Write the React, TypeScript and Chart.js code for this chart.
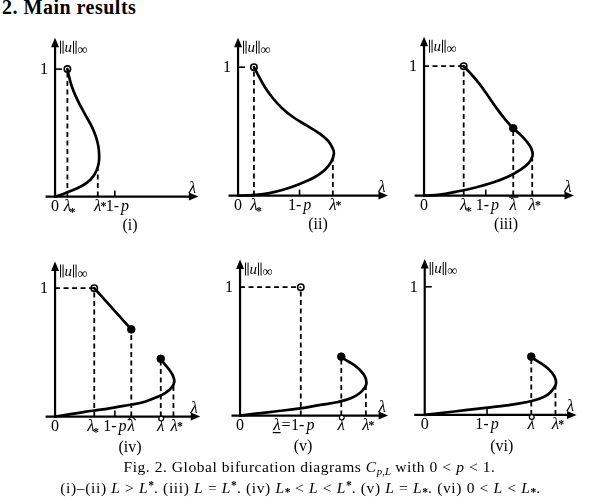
import React, { useEffect, useRef } from 'react';
import { Chart, registerables } from 'chart.js';
Chart.register(...registerables);

type Pt = [number, number];
type Lab = [number, string];

// ---------- Panel (i) ----------
const curveI: Pt[] = [[0.097, 1.0], [0.112, 0.933], [0.134, 0.858], [0.164, 0.784], [0.201, 0.709], [0.246, 0.627], [0.291, 0.545], [0.321, 0.47], [0.34, 0.396], [0.347, 0.321], [0.343, 0.261], [0.328, 0.209], [0.299, 0.157], [0.254, 0.112], [0.194, 0.075], [0.127, 0.045], [0.06, 0.019], [0, 0]];
const openI: Pt[] = [[0.097, 1]];
const dotsI: Pt[] = [];
const vDashI: Pt[] = [[0.097, 1], [0.336, 0.22]];
const hDashI: number[] = [];
const ticksI: number[] = [0.47];
const labelsI: Lab[] = [[0, '0'], [0.097, 'lamSub'], [0.336, 'lamSup'], [0.49, 'oneMinusP']];

// ---------- Panel (ii) ----------
const curveII: Pt[] = [[0.124, 1.0], [0.161, 0.931], [0.21, 0.844], [0.272, 0.758], [0.346, 0.679], [0.432, 0.61], [0.531, 0.548], [0.63, 0.487], [0.704, 0.425], [0.741, 0.363], [0.748, 0.326], [0.728, 0.264], [0.679, 0.202], [0.593, 0.141], [0.481, 0.091], [0.358, 0.047], [0.235, 0.017], [0.111, 0.003], [0, 0]];
const openII: Pt[] = [[0.124, 1]];
const dotsII: Pt[] = [];
const vDashII: Pt[] = [[0.124, 1], [0.74, 0.29]];
const hDashII: number[] = [];
const ticksII: number[] = [0.48];
const labelsII: Lab[] = [[0, '0'], [0.124, 'lamSub'], [0.48, 'oneMinusP'], [0.74, 'lamSup']];

// ---------- Panel (iii) ----------
const curveIII: Pt[] = [[0.307, 1.0], [0.368, 0.936], [0.429, 0.863], [0.491, 0.777], [0.551, 0.691], [0.625, 0.593], [0.691, 0.52], [0.76, 0.458], [0.821, 0.384], [0.84, 0.336], [0.838, 0.299], [0.809, 0.25], [0.748, 0.201], [0.662, 0.152], [0.539, 0.103], [0.392, 0.061], [0.245, 0.029], [0.123, 0.007], [0, 0]];
const openIII: Pt[] = [[0.307, 1]];
const dotsIII: Pt[] = [[0.691, 0.52]];
const vDashIII: Pt[] = [[0.307, 1], [0.691, 0.52], [0.838, 0.287]];
const hDashIII: number[] = [0.307];
const ticksIII: number[] = [0.478];
const labelsIII: Lab[] = [[0, '0'], [0.307, 'lamSub'], [0.49, 'oneMinusP'], [0.691, 'lamBar'], [0.838, 'lamSup']];

// ---------- Panel (iv) ----------
const upperIV: Pt[] = [[0.306, 1], [0.595, 0.679]];
const lowerIV: Pt[] = [[0, 0], [0.109, 0.017], [0.232, 0.037], [0.356, 0.054], [0.479, 0.074], [0.602, 0.094], [0.701, 0.116], [0.787, 0.148], [0.862, 0.185], [0.911, 0.227], [0.931, 0.272], [0.919, 0.321], [0.887, 0.37], [0.85, 0.415], [0.825, 0.45]];
const openIV: Pt[] = [[0.306, 1]];
const dotsIV: Pt[] = [[0.595, 0.679], [0.825, 0.45]];
const vDashIV: Pt[] = [[0.306, 1], [0.595, 0.679], [0.825, 0.45], [0.924, 0.272]];
const hDashIV: number[] = [0.306];
const ticksIV: number[] = [0.467];
const labelsIV: Lab[] = [[0, '0'], [0.28, 'lamSub'], [0.467, 'oneMinusP'], [0.595, 'lamHat'], [0.825, 'lamRing'], [0.93, 'lamSup']];

// ---------- Panel (v) ----------
const lowerV: Pt[] = [[0, 0], [0.123, 0.015], [0.271, 0.032], [0.469, 0.056], [0.617, 0.081], [0.765, 0.106], [0.864, 0.135], [0.938, 0.178], [0.975, 0.222], [0.987, 0.254], [0.975, 0.304], [0.938, 0.353], [0.889, 0.395], [0.827, 0.432], [0.79, 0.459]];
const openV: Pt[] = [[0.474, 1]];
const dotsV: Pt[] = [[0.79, 0.459]];
const vDashV: Pt[] = [[0.474, 1], [0.79, 0.459], [0.982, 0.241]];
const hDashV: number[] = [0.474];
const ticksV: number[] = [];
const labelsV: Lab[] = [[0, '0'], [0.474, 'lamUnderEq'], [0.79, 'lamRing'], [0.982, 'lamSup']];

// ---------- Panel (vi) ----------
const lowerVI: Pt[] = [[0, 0], [0.144, 0.017], [0.318, 0.037], [0.493, 0.057], [0.642, 0.075], [0.791, 0.099], [0.89, 0.124], [0.965, 0.161], [1.01, 0.211], [1.027, 0.249], [1.015, 0.299], [0.978, 0.348], [0.928, 0.39], [0.866, 0.43], [0.833, 0.455]];
const openVI: Pt[] = [];
const dotsVI: Pt[] = [[0.833, 0.455]];
const vDashVI: Pt[] = [[0.833, 0.455], [1.022, 0.236]];
const hDashVI: number[] = [];
const ticksVI: number[] = [0.487];
const labelsVI: Lab[] = [[0, '0'], [0.487, 'oneMinusP'], [0.833, 'lamRing'], [1.022, 'lamSup']];

const tags = ['(i)', '(ii)', '(iii)', '(iv)', '(v)', '(vi)'];

// layout (pixels)
const LAYOUT = [
  { ox: 52, oy: 200, s: 134, xs: -10, xt: 151, yt: 167, tdx: 75, tdy: 29, yTick: true },
  { ox: 235, oy: 199, s: 135, xs: -10, xt: 158, yt: 166, tdx: 80, tdy: 29, yTick: true },
  { ox: 421, oy: 199, s: 136, xs: -10, xt: 158, yt: 167, tdx: 82, tdy: 29, yTick: false },
  { ox: 52, oy: 420, s: 135, xs: -10, xt: 153, yt: 163, tdx: 75, tdy: 31, yTick: false },
  { ox: 237, oy: 419, s: 135, xs: -9, xt: 156, yt: 164, tdx: 63, tdy: 31, yTick: false },
  { ox: 422, oy: 418, s: 134, xs: -11, xt: 159, yt: 163, tdx: 77, tdy: 32, yTick: true },
];

const PANELS = [
  { curves: [curveI], open: openI, dots: dotsI, vDash: vDashI, hDash: hDashI, ticks: ticksI, labels: labelsI },
  { curves: [curveII], open: openII, dots: dotsII, vDash: vDashII, hDash: hDashII, ticks: ticksII, labels: labelsII },
  { curves: [curveIII], open: openIII, dots: dotsIII, vDash: vDashIII, hDash: hDashIII, ticks: ticksIII, labels: labelsIII },
  { curves: [upperIV, lowerIV], open: openIV, dots: dotsIV, vDash: vDashIV, hDash: hDashIV, ticks: ticksIV, labels: labelsIV },
  { curves: [lowerV], open: openV, dots: dotsV, vDash: vDashV, hDash: hDashV, ticks: ticksV, labels: labelsV },
  { curves: [lowerVI], open: openVI, dots: dotsVI, vDash: vDashVI, hDash: hDashVI, ticks: ticksVI, labels: labelsVI },
];

const PADL = 50, PADT = 185, W = 220, H = 230;
const FAM = '"Liberation Serif", "DejaVu Serif", serif';
const fnt = (sz: number, it = false, bold = false) => `${it ? 'italic ' : ''}${bold ? 'bold ' : ''}${sz}px ${FAM}`;
const LS = 16;
const LAM = 17;

function drawTickLabel(ctx: CanvasRenderingContext2D, kind: string, cx: number, ay: number) {
  const base = ay + 14.5;
  ctx.fillStyle = '#000';
  ctx.strokeStyle = '#000';
  ctx.textBaseline = 'alphabetic';
  const lam = (x: number) => {
    ctx.font = fnt(LAM, true);
    ctx.textAlign = 'center';
    ctx.fillText('λ', x, base);
    return ctx.measureText('λ').width;
  };
  const ompWidth = () => {
    ctx.font = fnt(LS);
    const wa = ctx.measureText('1- ').width;
    ctx.font = fnt(LS, true);
    return wa - 2 + ctx.measureText('p').width;
  };
  const omp = (xLeft: number) => {
    ctx.textAlign = 'left';
    ctx.font = fnt(LS);
    ctx.fillText('1- ', xLeft, base);
    const wa = ctx.measureText('1- ').width;
    ctx.font = fnt(LS, true);
    ctx.fillText('p', xLeft + wa - 2, base);
  };
  if (kind === '0') {
    ctx.font = fnt(LS);
    ctx.textAlign = 'center';
    ctx.fillText('0', cx, base);
  } else if (kind === 'lamSub') {
    const w = lam(cx);
    ctx.font = fnt(12, false, true);
    ctx.textAlign = 'left';
    ctx.fillText('*', cx + w / 2 - 1.5, base + 5);
  } else if (kind === 'lamSup') {
    const w = lam(cx);
    ctx.font = fnt(12, false, true);
    ctx.textAlign = 'left';
    ctx.fillText('*', cx + w / 2 - 1, base - 1.5);
  } else if (kind === 'oneMinusP') {
    omp(cx - ompWidth() / 2);
  } else if (kind === 'lamBar') {
    lam(cx);
    ctx.lineWidth = 1.3;
    ctx.beginPath();
    ctx.moveTo(cx - 4, base - 13);
    ctx.lineTo(cx + 5, base - 13);
    ctx.stroke();
  } else if (kind === 'lamHat') {
    lam(cx);
    ctx.lineWidth = 1.2;
    ctx.beginPath();
    ctx.moveTo(cx - 3.5, base - 11);
    ctx.lineTo(cx + 0.5, base - 14.5);
    ctx.lineTo(cx + 4.5, base - 11);
    ctx.stroke();
  } else if (kind === 'lamRing') {
    lam(cx);
    ctx.lineWidth = 1.2;
    ctx.fillStyle = '#fff';
    ctx.beginPath();
    ctx.arc(cx + 0.5, ay + 2, 2.4, 0, Math.PI * 2);
    ctx.fill();
    ctx.stroke();
    ctx.fillStyle = '#000';
  } else if (kind === 'lamUnderEq') {
    const w1 = ompWidth();
    const start1 = cx + 2 - w1 / 2;
    omp(start1);
    ctx.font = fnt(LS);
    ctx.textAlign = 'left';
    const we = ctx.measureText('=').width;
    ctx.fillText('=', start1 - we - 0.5, base);
    ctx.font = fnt(LAM, true);
    const wl = ctx.measureText('λ').width;
    const lx = start1 - we - 1.5 - wl;
    ctx.fillText('λ', lx, base);
    ctx.lineWidth = 1.3;
    ctx.beginPath();
    ctx.moveTo(lx - 0.5, base + 2.5);
    ctx.lineTo(lx + wl, base + 2.5);
    ctx.stroke();
  }
}

function makePlugin(idx: number) {
  const L = LAYOUT[idx];
  const P = PANELS[idx];
  return {
    id: 'axesDecor' + idx,
    beforeDatasetsDraw(chart: any) {
      const ctx: CanvasRenderingContext2D = chart.ctx;
      const xs = chart.scales.x, ys = chart.scales.y;
      const X = (v: number) => xs.getPixelForValue(v);
      const Y = (v: number) => ys.getPixelForValue(v);
      const ox = X(0), oy = Y(0);
      const xEnd = X(L.xt / L.s), xStart = X(L.xs / L.s), yEnd = Y(L.yt / L.s);
      ctx.save();
      ctx.strokeStyle = '#000';
      ctx.fillStyle = '#000';
      ctx.lineWidth = 2.2;
      ctx.lineCap = 'butt';
      ctx.beginPath();
      ctx.moveTo(xStart, oy);
      ctx.lineTo(xEnd - 6, oy);
      ctx.stroke();
      ctx.beginPath();
      ctx.moveTo(xEnd, oy);
      ctx.lineTo(xEnd - 9.5, oy - 4);
      ctx.lineTo(xEnd - 9.5, oy + 4);
      ctx.closePath();
      ctx.fill();
      ctx.beginPath();
      ctx.moveTo(ox, oy + 1);
      ctx.lineTo(ox, yEnd + 6);
      ctx.stroke();
      ctx.beginPath();
      ctx.moveTo(ox, yEnd);
      ctx.lineTo(ox - 4, yEnd + 9.5);
      ctx.lineTo(ox + 4, yEnd + 9.5);
      ctx.closePath();
      ctx.fill();
      ctx.lineWidth = 1.6;
      P.ticks.forEach((t) => {
        ctx.beginPath();
        ctx.moveTo(X(t), oy);
        ctx.lineTo(X(t), oy - 6);
        ctx.stroke();
      });
      if (L.yTick) {
        ctx.beginPath();
        ctx.moveTo(ox, Y(1));
        ctx.lineTo(ox + 7, Y(1));
        ctx.stroke();
      }
      ctx.restore();
    },
    afterDraw(chart: any) {
      const ctx: CanvasRenderingContext2D = chart.ctx;
      const xs = chart.scales.x, ys = chart.scales.y;
      const X = (v: number) => xs.getPixelForValue(v);
      const Y = (v: number) => ys.getPixelForValue(v);
      const ox = X(0), oy = Y(0);
      const xEnd = X(L.xt / L.s), yEnd = Y(L.yt / L.s);
      ctx.save();
      ctx.fillStyle = '#000';
      ctx.strokeStyle = '#000';
      ctx.font = fnt(LS);
      ctx.textAlign = 'right';
      ctx.textBaseline = 'middle';
      ctx.fillText('1', ox - 7, Y(1) + 1);
      ctx.font = fnt(LAM, true);
      ctx.textAlign = 'center';
      ctx.textBaseline = 'alphabetic';
      ctx.fillText('λ', xEnd - 6, oy - 4);
      // ||u||_inf
      const b = yEnd + 14;
      let x = ox + 5;
      const bars = (x0: number) => {
        ctx.lineWidth = 1;
        ctx.beginPath();
        ctx.moveTo(x0 + 0.5, b - 11);
        ctx.lineTo(x0 + 0.5, b + 2);
        ctx.moveTo(x0 + 3, b - 11);
        ctx.lineTo(x0 + 3, b + 2);
        ctx.stroke();
      };
      bars(x);
      x += 4.5;
      ctx.font = fnt(15, true);
      ctx.textAlign = 'left';
      ctx.fillText('u', x, b);
      x += ctx.measureText('u').width + 1;
      bars(x);
      x += 4.5;
      ctx.font = fnt(14);
      ctx.fillText('∞', x, b + 2);
      P.labels.forEach(([v, k]) => drawTickLabel(ctx, k, X(v), oy));
      ctx.font = fnt(16);
      ctx.textAlign = 'center';
      ctx.textBaseline = 'middle';
      ctx.fillText(tags[idx], ox + L.tdx, oy + L.tdy);
      ctx.restore();
    },
  };
}

function buildConfig(idx: number): any {
  const L = LAYOUT[idx];
  const P = PANELS[idx];
  const ds: any[] = [];
  const toXY = (arr: Pt[]) => arr.map(([x, y]) => ({ x, y }));
  P.vDash.forEach(([x, top]) =>
    ds.push({ data: toXY([[x, 0], [x, top]]), showLine: true, borderColor: '#000', borderWidth: 1.8, borderDash: [5, 3.5], pointRadius: 0, fill: false })
  );
  P.hDash.forEach((xe) =>
    ds.push({ data: toXY([[0, 1], [xe, 1]]), showLine: true, borderColor: '#000', borderWidth: 1.8, borderDash: [5, 3.5], pointRadius: 0, fill: false })
  );
  P.curves.forEach((c) =>
    ds.push({ data: toXY(c), showLine: true, borderColor: '#000', borderWidth: 2.7, pointRadius: 0, tension: c.length > 2 ? 0.4 : 0, fill: false, borderCapStyle: 'round' })
  );
  if (P.dots.length)
    ds.push({ data: toXY(P.dots), showLine: false, pointRadius: 3.8, pointBackgroundColor: '#000', pointBorderColor: '#000', pointBorderWidth: 1 });
  if (P.open.length)
    ds.push({ data: toXY(P.open), showLine: false, pointRadius: 3.2, pointBackgroundColor: '#fff', pointBorderColor: '#000', pointBorderWidth: 1.6 });
  return {
    type: 'scatter',
    data: { datasets: ds },
    options: {
      animation: false,
      responsive: false,
      maintainAspectRatio: false,
      events: [],
      layout: { padding: 0 },
      plugins: { legend: { display: false }, tooltip: { enabled: false } },
      scales: {
        x: { type: 'linear', display: false, min: -PADL / L.s, max: (W - PADL) / L.s },
        y: { type: 'linear', display: false, min: -(H - PADT) / L.s, max: PADT / L.s },
      },
    },
    plugins: [makePlugin(idx)],
  };
}

function Panel({ idx }: { idx: number }) {
  const ref = useRef<HTMLCanvasElement>(null);
  useEffect(() => {
    const chart = new Chart(ref.current as HTMLCanvasElement, buildConfig(idx));
    return () => chart.destroy();
  }, [idx]);
  const L = LAYOUT[idx];
  return (
    <canvas
      ref={ref}
      width={W}
      height={H}
      style={{ position: 'absolute', left: L.ox - PADL, top: L.oy - PADT, width: W, height: H }}
    />
  );
}

const capStyle: React.CSSProperties = {
  position: 'absolute',
  width: 591,
  textAlign: 'center',
  fontFamily: FAM,
  fontSize: 15.5,
  letterSpacing: 0.55,
  lineHeight: '20px',
  whiteSpace: 'nowrap',
  color: '#000',
};
const sub: React.CSSProperties = { fontSize: '0.7em', position: 'relative', top: '0.3em', letterSpacing: 0 };
const sup: React.CSSProperties = { fontSize: '0.75em', position: 'relative', top: '-0.35em', letterSpacing: 0, fontWeight: 'bold' };
const subStar: React.CSSProperties = { fontSize: '0.75em', position: 'relative', top: '0.25em', letterSpacing: 0, fontWeight: 'bold' };
const rel = (s: string) => <span style={{ margin: '0 4.5px' }}>{s}</span>;

export default function App() {
  return (
    <div style={{ position: 'absolute', left: 0, top: 0, width: 591, height: 499, background: '#fff', overflow: 'hidden' }}>
      <div style={{ position: 'absolute', left: 2, top: -5, fontFamily: FAM, fontWeight: 'bold', fontSize: 20, letterSpacing: 0.5, lineHeight: '24px', whiteSpace: 'nowrap' }}>
        2. Main results
      </div>
      {[0, 1, 2, 3, 4, 5].map((i) => (
        <Panel key={i} idx={i} />
      ))}
      <div style={{ ...capStyle, left: 14, top: 457 }}>
        Fig. 2. Global bifurcation diagrams <i>C</i>
        <span style={sub}>
          <i>p</i>,<i>L</i>
        </span>{' '}
        with 0{rel('<')}<i>p</i>{rel('<')}1.
      </div>
      <div style={{ ...capStyle, left: 5, top: 478, letterSpacing: 0.65 }}>
        (i)–(ii) <i>L</i>{rel('>')}<i>L</i>
        <span style={sup}>*</span>. (iii) <i>L</i>{rel('=')}<i>L</i>
        <span style={sup}>*</span>. (iv) <i>L</i>
        <span style={subStar}>*</span>{rel('<')}<i>L</i>{rel('<')}<i>L</i>
        <span style={sup}>*</span>. (v) <i>L</i>{rel('=')}<i>L</i>
        <span style={subStar}>*</span>. (vi) 0{rel('<')}<i>L</i>{rel('<')}<i>L</i>
        <span style={subStar}>*</span>.
      </div>
    </div>
  );
}
